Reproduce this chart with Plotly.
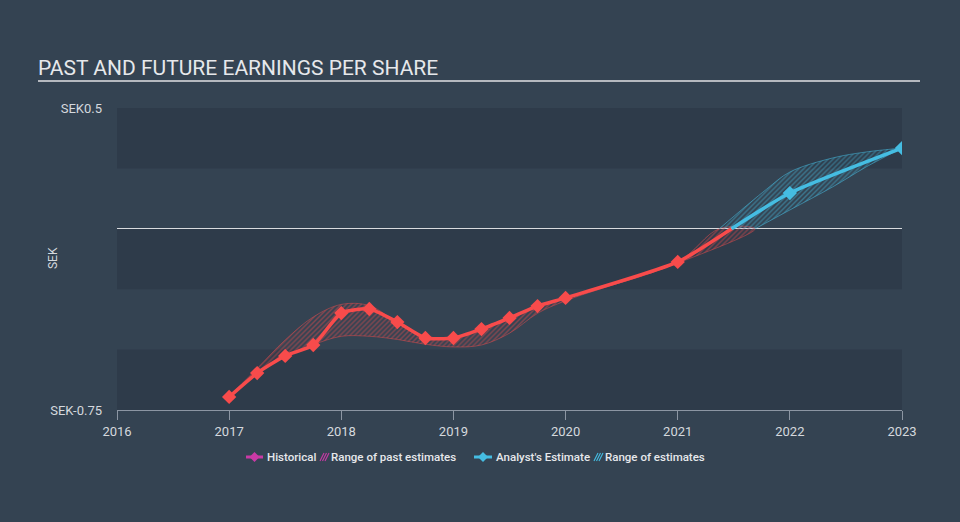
import plotly.graph_objects as go

# ---- data ----
hist_x = [2017.0, 2017.25, 2017.5, 2017.75, 2018.0, 2018.25, 2018.5, 2018.75,
          2019.0, 2019.25, 2019.5, 2019.75, 2020.0, 2021.0, 2021.48]
hist_y = [-0.696, -0.597, -0.526, -0.481, -0.349, -0.332, -0.386, -0.452,
          -0.452, -0.415, -0.369, -0.320, -0.286, -0.137, 0.0]
hist_marked = [True] * 14 + [False]

past_up_x = [2017.0, 2017.25, 2017.5, 2017.75, 2018.0, 2018.25, 2018.5, 2018.75,
             2019.0, 2019.25, 2019.5, 2019.75, 2020.0, 2021.0, 2021.37]
past_up_y = [-0.696, -0.578, -0.46, -0.365, -0.313, -0.318, -0.388, -0.448,
             -0.452, -0.415, -0.369, -0.320, -0.286, -0.137, 0.0]
past_lo_x = [2017.0, 2017.25, 2017.5, 2017.75, 2018.0, 2018.25, 2018.5, 2018.75,
             2019.0, 2019.25, 2019.5, 2019.75, 2020.0, 2021.0, 2021.69]
past_lo_y = [-0.696, -0.600, -0.530, -0.480, -0.445, -0.445, -0.458, -0.478,
             -0.489, -0.481, -0.432, -0.350, -0.298, -0.142, 0.0]

est_x = [2021.48, 2022.0, 2023.0]
est_y = [0.0, 0.148, 0.334]
est_marked = [False, True, True]

fut_up_x = [2021.37, 2021.79, 2022.0, 2022.38, 2022.68, 2023.0]
fut_up_y = [0.0, 0.163, 0.235, 0.293, 0.318, 0.334]
fut_lo_x = [2021.69, 2022.0, 2022.38, 2022.68, 2023.0]
fut_lo_y = [0.0, 0.078, 0.173, 0.256, 0.334]

y_ticks = [-0.75, 0.5]
y_tick_labels = ["SEK-0.75", "SEK0.5"]
x_ticks = [2016, 2017, 2018, 2019, 2020, 2021, 2022, 2023]
band_edges = [(0.25, 0.5), (-0.25, 0.0), (-0.75, -0.5)]

legend_labels = ["Historical", "Range of past estimates", "Analyst's Estimate", "Range of estimates"]

RED = "#f84b4b"
BLUE = "#45bde2"
MAGENTA = "#c93aa6"
BG = "#344352"
BAND = "#2e3b4a"
TXT = "#d5d9de"
FONT = "Roboto"

W, H = 960, 522
ML, MR, MT, MB = 117, 58, 108, 112
plot_w = W - ML - MR
plot_h = H - MT - MB


def px(p):
    return (p - ML) / plot_w


def py(p):
    return 1 - (p - MT) / plot_h


fig = go.Figure()

# past range (hatched red)
fig.add_trace(go.Scatter(
    x=past_up_x + past_lo_x[::-1], y=past_up_y + past_lo_y[::-1],
    mode="lines", line=dict(color="rgba(248,75,75,0.55)", width=0.8, shape="spline"),
    fill="toself", fillcolor="rgba(0,0,0,0)",
    fillpattern=dict(shape="/", fgcolor="rgba(248,75,75,0.85)", bgcolor="rgba(0,0,0,0)",
                     size=3.5, solidity=0.4),
    showlegend=False, hoverinfo="skip"))

# future range (hatched blue)
fig.add_trace(go.Scatter(
    x=fut_up_x + fut_lo_x[::-1], y=fut_up_y + fut_lo_y[::-1],
    mode="lines", line=dict(color="rgba(69,189,226,0.65)", width=0.8, shape="spline"),
    fill="toself", fillcolor="rgba(0,0,0,0)",
    fillpattern=dict(shape="/", fgcolor="rgba(69,189,226,0.85)", bgcolor="rgba(0,0,0,0)",
                     size=3.5, solidity=0.4),
    showlegend=False, hoverinfo="skip"))

# historical line
fig.add_trace(go.Scatter(
    x=hist_x, y=hist_y, mode="lines+markers",
    line=dict(color=RED, width=3.5, shape="spline", smoothing=0.6),
    marker=dict(symbol="diamond", color=RED, opacity=1, line=dict(width=0),
                size=[11 if m else 0 for m in hist_marked]),
    showlegend=False, hoverinfo="skip"))

# estimate line
fig.add_trace(go.Scatter(
    x=est_x, y=est_y, mode="lines+markers",
    line=dict(color=BLUE, width=3.5, shape="spline", smoothing=0.6),
    marker=dict(symbol="diamond", color=BLUE, opacity=1, line=dict(width=0),
                size=[11 if m else 0 for m in est_marked]),
    showlegend=False, hoverinfo="skip"))

shapes = []
for lo, hi in band_edges:
    shapes.append(dict(type="rect", xref="paper", yref="y", x0=0, x1=1, y0=lo, y1=hi,
                       fillcolor=BAND, line=dict(width=0), layer="below"))
# title underline (x 38..920 px, y 81 px)
shapes.append(dict(type="line", xref="paper", yref="paper",
                   x0=px(38), x1=px(920), y0=py(81), y1=py(81),
                   line=dict(color="#b5b9bf", width=2)))

annotations = [dict(text="SEK", xref="paper", yref="paper",
                    x=px(53), y=py(258),
                    xanchor="center", yanchor="middle", textangle=-90, showarrow=False,
                    font=dict(family=FONT, size=12, color=TXT))]

# ---- custom legend (icons as shapes, labels as text) ----
LY = 457
legend_items = [
    # (kind, color, icon_x0, icon_x1, text_x)
    ("line", MAGENTA, 246, 263, 267),
    ("hatch", MAGENTA, 320, 327, 331),
    ("line", BLUE, 474, 492, 496),
    ("hatch", BLUE, 594, 601, 605),
]
for (kind, col, x0, x1, tx), label in zip(legend_items, legend_labels):
    if kind == "line":
        shapes.append(dict(type="line", xref="paper", yref="paper",
                           x0=px(x0), x1=px(x1), y0=py(LY), y1=py(LY),
                           line=dict(color=col, width=3)))
        cx = (x0 + x1) / 2
        d = 5
        path = (f"M {px(cx)} {py(LY - d)} L {px(cx + d)} {py(LY)} "
                f"L {px(cx)} {py(LY + d)} L {px(cx - d)} {py(LY)} Z")
        shapes.append(dict(type="path", xref="paper", yref="paper", path=path,
                           fillcolor=col, line=dict(width=0)))
    else:
        for k in range(3):
            xa = x0 + k * 2.5
            shapes.append(dict(type="line", xref="paper", yref="paper",
                               x0=px(xa), y0=py(LY + 4), x1=px(xa + 4), y1=py(LY - 4),
                               line=dict(color=col, width=1.1)))
    annotations.append(dict(text=label, xref="paper", yref="paper",
                            x=px(tx), y=py(LY), xanchor="left", yanchor="middle",
                            showarrow=False, xshift=-2,
                            font=dict(family=FONT, size=11.5, color="#e6e8eb", weight=500)))

fig.update_layout(
    width=W, height=H,
    margin=dict(l=ML, r=MR, t=MT, b=MB),
    paper_bgcolor=BG, plot_bgcolor=BG,
    font=dict(family=FONT, color=TXT, size=12),
    title=dict(text="PAST AND FUTURE EARNINGS PER SHARE", x=38 / W, xanchor="left",
               y=1 - 68 / H, yanchor="middle",
               font=dict(family=FONT, size=21, color="#e6e8eb")),
    shapes=shapes,
    annotations=annotations,
    showlegend=False,
    xaxis=dict(range=[2016, 2023], tickvals=x_ticks, ticktext=[str(v) for v in x_ticks],
               showgrid=False, zeroline=False, showline=True, linecolor="#8c96a3",
               linewidth=1, ticks="outside", ticklen=9, tickcolor="#8c96a3",
               tickfont=dict(size=13, color=TXT)),
    yaxis=dict(range=[-0.75, 0.5], tickvals=y_ticks, ticktext=y_tick_labels,
               showgrid=False, zeroline=True, zerolinecolor="#d9dbde", zerolinewidth=1,
               showline=False, ticks="", ticklabelstandoff=14,
               tickfont=dict(size=13, color=TXT)),
)

fig.write_html("out.html",
               config={"displayModeBar": False},
               post_script="document.body.style.margin='0';"
                           "document.body.style.background='#344352';")
